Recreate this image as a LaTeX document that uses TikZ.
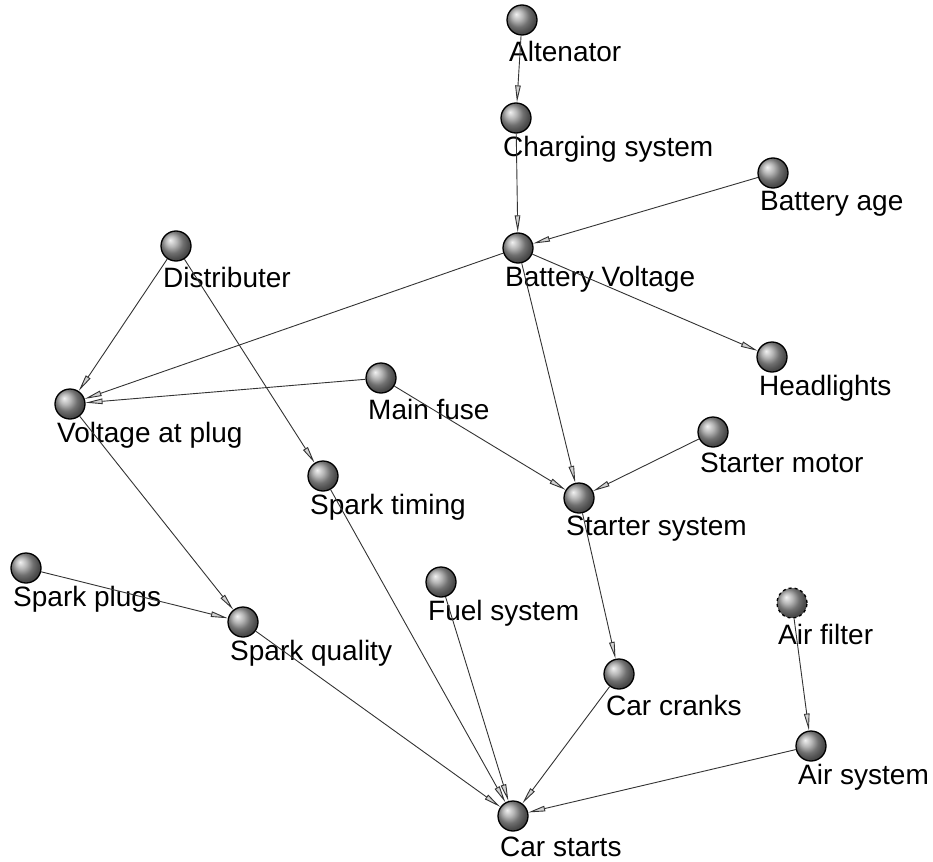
\documentclass[tikz,border=0pt]{standalone}
\usepackage{fontspec}
\setmainfont{Liberation Sans}
\usetikzlibrary{arrows.meta}
\begin{document}
\begin{tikzpicture}[x=1pt,y=-1pt,
  var/.style={circle,draw=black,line width=1.3pt,minimum size=30pt,inner sep=0pt,
    shading=ball,ball color=gray!75},
  hidden/.style={var,dashed},
  lbl/.style={anchor=west,inner sep=0pt,font=\fontsize{28}{30}\selectfont},
  dep/.style={draw=black!80,line width=0.9pt,
    -{Triangle[open,length=17pt,width=5.5pt,fill=gray!35]}}]
\useasboundingbox (0,0) rectangle (933,861);
% variables: circle plus caption below-right
\foreach \n/\x/\y/\t in {
  alt/522/20/Altenator,
  chg/516/118/Charging system,
  age/773/173/Battery age,
  bv/518/248/Battery Voltage,
  dist/176/246/Distributer,
  head/772/357/Headlights,
  fuse/381/378/Main fuse,
  vap/70/404/Voltage at plug,
  smot/713/432/Starter motor,
  stim/323/476/Spark timing,
  ssys/579/498/Starter system,
  plugs/26/568/Spark plugs,
  fuel/441/582/Fuel system,
  sq/243/622/Spark quality,
  crank/619/674/Car cranks,
  airs/811/746/Air system,
  start/513/816/Car starts}{
  \node[var] (\n) at (\x,\y) {};
  \node[lbl] (\n-l) at (\x-13,\y+31) {\t};
}
\node[hidden] (filt) at (792,603) {};
\node[lbl] (filt-l) at (792-14,603+31) {Air filter};
% dependencies
\foreach \a/\b in {alt/chg, chg/bv, age/bv, bv/vap, bv/head, bv/ssys,
  dist/vap, dist/stim, fuse/vap, fuse/ssys, smot/ssys, vap/sq, plugs/sq,
  sq/start, stim/start, fuel/start, ssys/crank, crank/start, filt/airs,
  airs/start}
  \draw[dep] (\a) -- (\b);
\end{tikzpicture}
\end{document}
